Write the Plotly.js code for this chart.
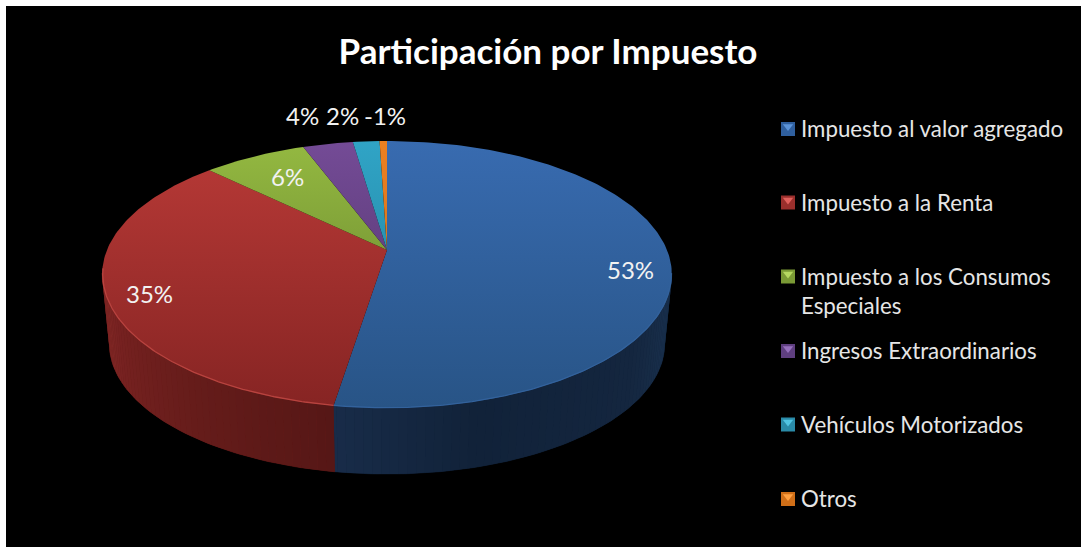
<!DOCTYPE html>
<html><head><meta charset="utf-8">
<script src="https://cdn.plot.ly/plotly-3.0.1.min.js"></script>
<style>html,body{margin:0;padding:0;background:#fff}#c{width:1081px;height:547px}</style>
</head><body><div id="c"></div>
<script>
// ---- data ----
const categories = ['Impuesto al valor agregado','Impuesto a la Renta','Impuesto a los Consumos<br>Especiales','Ingresos Extraordinarios','Vehículos Motorizados','Otros'];
const shares = [52.5, 34.8, 7.0, 3.4, 1.8, 0.5];
const shareLabels = ['53%','35%','6%','4%','2%','-1%'];

// ---- styles and layout ----
const topColors = [['#386bb0','#285486'],['#b93a37','#862423'],['#94b941','#5f7a2a'],['#744b96','#4c3265'],['#30a4c6','#1f7a94'],['#ec8020','#c56a18']];
const swatchLight = ['#5b93d8','#e0605c','#b5d860','#9670bc','#50c4e2','#ffa040'];
const swatchDark  = ['#2f5f9e','#9a2f2c','#7a9a35','#5f3f80','#2a8ba8','#d06f18'];
const labelPos = [[630,269.5],[149,293.5],[287,176.5],[302,115.5],[342,115.5],[385,115.5]];
const legendY = [129,202.5,276.5,351,424.5,499];
const legendTextY = [128.5,202,290.5,350.5,424,498.5];
const W = 1081, H = 547, TITLE_Y = 52;

// perspective projection of the pie disc
const cx = 387, ay = 250, A = 129, B = 280, K = 0.1836;
const DEPTH = 70, SCALE = 0.975;
function proj(deg, s, d){
  const t = deg*Math.PI/180, den = 1 + K*Math.cos(t);
  return [cx + s*B*Math.sin(t)/den, ay + d - s*A*Math.cos(t)/den];
}
const total = shares.reduce((a,b)=>a+b,0);
let acc = 0;
const bounds = shares.map(v=>{const s=acc; acc+=v; return [s/total*360, acc/total*360];});

function hex(c){return [1,3,5].map(i=>parseInt(c.substr(i,2),16));}
function mix(stops, f){
  for(let i=0;i<stops.length-1;i++){
    if(f<=stops[i+1][0]){
      const u=(f-stops[i][0])/(stops[i+1][0]-stops[i][0]);
      const a=hex(stops[i][1]),b=hex(stops[i+1][1]);
      return 'rgb('+a.map((v,j)=>Math.round(v+(b[j]-v)*u)).join(',')+')';
    }
  }
  return stops[stops.length-1][1];
}
const wallEdge = bounds[0][1];
const wallStops = [[100,'#1b3452'],[130,'#14263f'],[165,'#112239'],[wallEdge,'#182c49'],[wallEdge+0.01,'#561716'],[215,'#651c1a'],[240,'#752120'],[262,'#8c2d2a']];

const traces = [];
function wallPoly(d,e,stepDeg){
  const xs=[],ys=[];
  for(let a=d;a<e;a+=stepDeg){const q=proj(a,1,0);xs.push(q[0]);ys.push(q[1]);}
  let q=proj(e,1,0);xs.push(q[0]);ys.push(q[1]);
  for(let a=e;a>d;a-=stepDeg){q=proj(a,SCALE,DEPTH);xs.push(q[0]);ys.push(q[1]);}
  q=proj(d,SCALE,DEPTH);xs.push(q[0]);ys.push(q[1]);
  q=proj(d,1,0);xs.push(q[0]);ys.push(q[1]);
  return [xs,ys];
}
// base under the strips, so their seams do not show the black behind
[[100,wallEdge,'#14263f'],[wallEdge,260,'#681d1b']].forEach(r=>{
  const p=wallPoly(r[0],r[1],1);
  traces.push({type:'scatter',mode:'lines',x:p[0],y:p[1],fill:'toself',fillcolor:r[2],line:{color:r[2],width:0.5},hoverinfo:'skip',showlegend:false});
});
// side wall shading, as narrow strips sweeping from the right tangent to the left tangent
const edges = [];
for(let d=100; d<wallEdge; d+=1.5) edges.push(d);
edges.push(wallEdge);
for(let d=wallEdge+1.5; d<260; d+=1.5) edges.push(d);
edges.push(260);
for(let i=0;i<edges.length-1;i++){
  const d=edges[i], e=edges[i+1], p=wallPoly(d,e,e-d);
  traces.push({type:'scatter',mode:'lines',x:p[0],y:p[1],fill:'toself',fillcolor:mix(wallStops,(d+e)/2),line:{width:0},hoverinfo:'skip',showlegend:false});
}
// top face
bounds.forEach((b,i)=>{
  const xs=[cx], ys=[ay], n=Math.max(2,Math.ceil((b[1]-b[0])));
  for(let j=0;j<=n;j++){const q=proj(b[0]+(b[1]-b[0])*j/n,1,0);xs.push(q[0]);ys.push(q[1]);}
  xs.push(cx); ys.push(ay);
  traces.push({type:'scatter',mode:'lines',x:xs,y:ys,fill:'toself',name:categories[i].replace('<br>',' '),
    fillgradient:{type:'vertical',start:141,stop:408,colorscale:[[0,topColors[i][0]],[1,topColors[i][1]]]},
    line:{width:0},hoverinfo:'skip',showlegend:false});
});
// rim highlight on the front edge
[[100,wallEdge,'#33629c'],[wallEdge,262,'#b8433f']].forEach(r=>{
  const xs=[],ys=[];
  for(let d=r[0];d<=r[1];d+=0.5){const q=proj(d,0.998,0);xs.push(q[0]);ys.push(q[1]);}
  traces.push({type:'scatter',mode:'lines',x:xs,y:ys,line:{color:r[2],width:1.3},hoverinfo:'skip',showlegend:false});
});
// legend swatches
const swX = categories.map(()=>788);
traces.push({type:'scatter',mode:'markers',x:swX,y:legendY,marker:{symbol:'square',size:14,color:swatchDark,line:{width:0}},hoverinfo:'skip',showlegend:false});
traces.push({type:'scatter',mode:'markers',x:swX,y:legendY.map(v=>v-2.5),marker:{symbol:'triangle-down',size:9,color:swatchLight,line:{width:0}},hoverinfo:'skip',showlegend:false});

const FONT = 'Lato, "Open Sans", sans-serif';
const annotations = [];
shareLabels.forEach((t,i)=>annotations.push({x:labelPos[i][0],y:labelPos[i][1],xref:'x',yref:'y',text:t,showarrow:false,xanchor:'center',yanchor:'middle',font:{family:FONT,size:24,color:'#f2f2f2'}}));
categories.forEach((t,i)=>annotations.push({x:799,y:legendTextY[i],xref:'x',yref:'y',text:t,showarrow:false,xanchor:'left',yanchor:'middle',align:'left',font:{family:FONT,size:22.3,color:'#e6e6e6'}}));

const layout = {
  width:W,height:H,margin:{l:0,r:0,t:0,b:0,pad:0},
  paper_bgcolor:'#ffffff',plot_bgcolor:'rgba(0,0,0,0)',showlegend:false,
  title:{text:'<b>Participación por Impuesto</b>',x:548/W,xanchor:'center',y:1-TITLE_Y/H,yanchor:'middle',font:{family:FONT,size:35,color:'#ffffff'}},
  xaxis:{range:[0,W],visible:false,fixedrange:true},
  yaxis:{range:[H,0],visible:false,fixedrange:true},
  shapes:[{type:'rect',xref:'x',yref:'y',x0:6,y0:6,x1:W,y1:H,fillcolor:'#000000',line:{width:0},layer:'below'}],
  annotations
};
Plotly.newPlot('c',traces,layout,{displayModeBar:false,staticPlot:true});
</script></body></html>
